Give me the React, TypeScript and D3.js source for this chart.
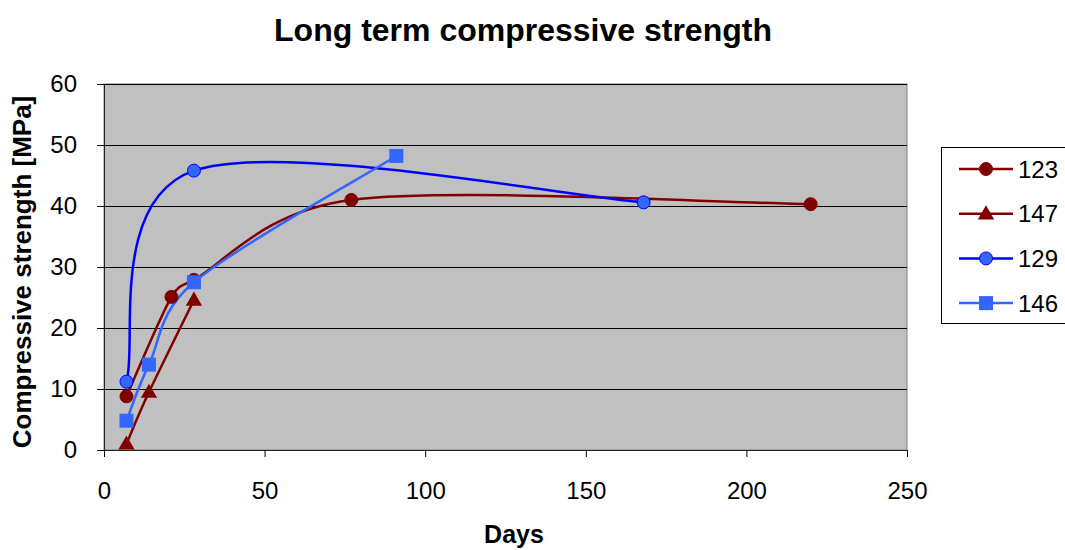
import * as d3 from "d3";
import { useEffect, useRef } from "react";

const xTicks = [0, 50, 100, 150, 200, 250];
const yTicks = [0, 10, 20, 30, 40, 50, 60];

const s123 = [
  { x: 7, y: 8.8 },
  { x: 21, y: 25.1 },
  { x: 28, y: 27.9 },
  { x: 77, y: 41 },
  { x: 220, y: 40.3 },
];
const s147 = [
  { x: 7, y: 1 },
  { x: 14, y: 9.5 },
  { x: 28, y: 24.6 },
];
const s129 = [
  { x: 7, y: 11.2 },
  { x: 28, y: 45.8 },
  { x: 168, y: 40.6 },
];
const s146 = [
  { x: 7, y: 4.8 },
  { x: 14, y: 14 },
  { x: 28, y: 27.5 },
  { x: 91, y: 48.2 },
];

const series = [
  { name: "123", data: s123, color: "#800000", marker: "circle" },
  { name: "147", data: s147, color: "#800000", marker: "triangle" },
  { name: "129", data: s129, color: "#0000ff", marker: "circle" },
  { name: "146", data: s146, color: "#3366ff", marker: "square" },
];

// Excel-style smoothed line: bezier control points along the neighbour chord,
// 1/6 of its length, capped at half the segment
function smoothPath(pts: [number, number][]) {
  const path = d3.path();
  path.moveTo(pts[0][0], pts[0][1]);
  for (let i = 0; i < pts.length - 1; i++) {
    const p0 = pts[i - 1] || pts[i];
    const p1 = pts[i];
    const p2 = pts[i + 1];
    const p3 = pts[i + 2] || pts[i + 1];
    const seg = Math.hypot(p2[0] - p1[0], p2[1] - p1[1]);
    const ctrl = (a: [number, number], b: [number, number]) => {
      const dx = b[0] - a[0];
      const dy = b[1] - a[1];
      const len = Math.hypot(dx, dy) || 1;
      const l = Math.min(len / 6, seg / 2);
      return [(dx / len) * l, (dy / len) * l];
    };
    const t1 = ctrl(p0, p2);
    const t2 = ctrl(p1, p3);
    path.bezierCurveTo(
      p1[0] + t1[0],
      p1[1] + t1[1],
      p2[0] - t2[0],
      p2[1] - t2[1],
      p2[0],
      p2[1]
    );
  }
  return path.toString();
}

export default function App() {
  const svgRef = useRef(null);
  const width = 1065;
  const height = 550;
  const margin = { top: 84, left: 104, right: 158, bottom: 100 };
  const innerW = width - margin.left - margin.right;
  const innerH = height - margin.top - margin.bottom;

  useEffect(() => {
    const svg = d3.select(svgRef.current);
    svg.selectAll("*").remove();
    svg.style("font-family", "'Liberation Sans', Arial, sans-serif");

    const x = d3.scaleLinear().domain([0, 250]).range([0, innerW]);
    const y = d3.scaleLinear().domain([0, 60]).range([innerH, 0]);

    svg
      .append("text")
      .attr("x", 523)
      .attr("y", 41)
      .attr("text-anchor", "middle")
      .attr("font-size", 32)
      .attr("font-weight", "bold")
      .text("Long term compressive strength");

    const g = svg
      .append("g")
      .attr("transform", `translate(${margin.left},${margin.top})`);

    g.append("rect")
      .attr("width", innerW)
      .attr("height", innerH)
      .attr("fill", "#c0c0c0")
      .attr("stroke", "#808080")
      .attr("stroke-width", 1);

    g.selectAll(".grid")
      .data(yTicks.filter((t) => t > 0))
      .enter()
      .append("line")
      .attr("x1", 0)
      .attr("x2", innerW)
      .attr("y1", (d) => Math.round(y(d)) + 0.5)
      .attr("y2", (d) => Math.round(y(d)) + 0.5)
      .attr("stroke", "#000")
      .attr("stroke-width", 1);

    const yAxis = g
      .append("g")
      .call(d3.axisLeft(y).tickValues(yTicks).tickSize(7).tickPadding(20));
    yAxis.select(".domain").attr("stroke", "#222");
    yAxis.selectAll("text").attr("font-size", 24).attr("fill", "#000");

    const xAxis = g
      .append("g")
      .attr("transform", `translate(0,${innerH})`)
      .call(d3.axisBottom(x).tickValues(xTicks).tickSize(7).tickPadding(25));
    xAxis.select(".domain").attr("stroke", "#222");
    xAxis.selectAll("text").attr("font-size", 24).attr("fill", "#000");

    svg
      .append("text")
      .attr("transform", `translate(31,272) rotate(-90)`)
      .attr("text-anchor", "middle")
      .attr("font-size", 26)
      .attr("font-weight", "bold")
      .text("Compressive strength [MPa]");

    svg
      .append("text")
      .attr("x", 514)
      .attr("y", 543)
      .attr("text-anchor", "middle")
      .attr("font-size", 25)
      .attr("font-weight", "bold")
      .text("Days");

    const drawMarker = (
      sel: any,
      type: string,
      color: string,
      cx: number,
      cy: number
    ) => {
      if (type === "circle") {
        const fill = color === "#0000ff" ? "#3366ff" : color;
        sel
          .append("circle")
          .attr("cx", cx)
          .attr("cy", cy)
          .attr("r", 6.5)
          .attr("fill", fill)
          .attr("stroke", color)
          .attr("stroke-width", 1);
      } else if (type === "square") {
        sel
          .append("rect")
          .attr("x", cx - 7)
          .attr("y", cy - 7)
          .attr("width", 14)
          .attr("height", 14)
          .attr("fill", color);
      } else {
        sel
          .append("path")
          .attr("d", d3.symbol(d3.symbolTriangle, 115)())
          .attr("transform", `translate(${cx},${cy + 1})`)
          .attr("fill", color);
      }
    };

    series.forEach((s) => {
      const pts = s.data.map((d) => [x(d.x), y(d.y)] as [number, number]);
      g.append("path")
        .attr("fill", "none")
        .attr("stroke", s.color)
        .attr("stroke-width", 2.5)
        .attr("d", smoothPath(pts));
    });
    series.forEach((s) => {
      const mg = g.append("g");
      s.data.forEach((d) => drawMarker(mg, s.marker, s.color, x(d.x), y(d.y)));
    });

    // legend
    const lg = svg.append("g").attr("transform", "translate(941,147)");
    lg.append("rect")
      .attr("x", 0.5)
      .attr("y", 0.5)
      .attr("width", 140)
      .attr("height", 176)
      .attr("fill", "#fff")
      .attr("stroke", "#000");
    series.forEach((s, i) => {
      const ly = 22 + i * 44.7;
      lg.append("line")
        .attr("x1", 18)
        .attr("x2", 72)
        .attr("y1", ly)
        .attr("y2", ly)
        .attr("stroke", s.color)
        .attr("stroke-width", 2.5);
      drawMarker(lg, s.marker, s.color, 45, ly);
      lg.append("text")
        .attr("x", 77)
        .attr("y", ly)
        .attr("dy", "0.36em")
        .attr("font-size", 24)
        .text(s.name);
    });
  }, []);

  return (
    <svg
      ref={svgRef}
      width={width}
      height={height}
      style={{ position: "absolute", left: 0, top: 0 }}
    ></svg>
  );
}
